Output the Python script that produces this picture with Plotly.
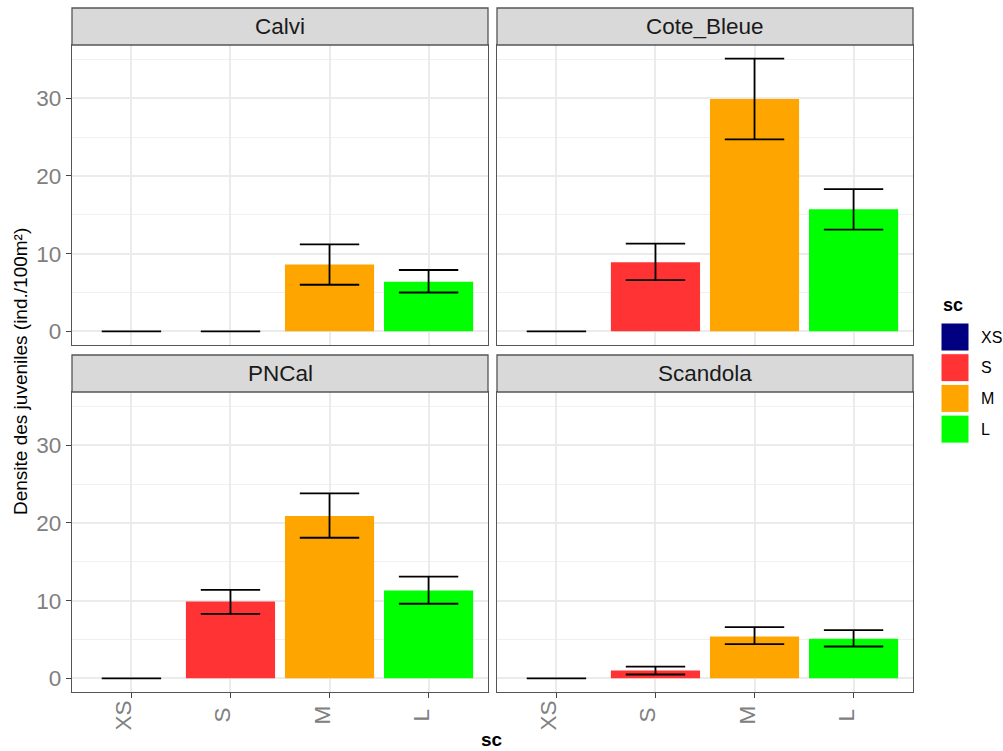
import plotly.graph_objects as go

# Size classes and facet order
size_classes = ["XS", "S", "M", "L"]
sites = ["Calvi", "Cote_Bleue", "PNCal", "Scandola"]
class_colors = ["#000080", "#FF3333", "#FFA500", "#00FF00"]

# Mean juvenile density (ind./100m²) per site and size class, with error-bar bounds
density_calvi = [0, 0, 8.6, 6.4]
lower_calvi = [0, 0, 6.0, 5.0]
upper_calvi = [0, 0, 11.2, 7.9]

density_cote_bleue = [0, 8.9, 29.9, 15.7]
lower_cote_bleue = [0, 6.6, 24.7, 13.1]
upper_cote_bleue = [0, 11.3, 35.1, 18.3]

density_pncal = [0, 9.9, 20.9, 11.3]
lower_pncal = [0, 8.3, 18.1, 9.6]
upper_pncal = [0, 11.4, 23.8, 13.1]

density_scandola = [0, 1.0, 5.4, 5.1]
lower_scandola = [0, 0.5, 4.4, 4.1]
upper_scandola = [0, 1.5, 6.6, 6.2]

y_ticks = [0, 10, 20, 30]

panels = [
    (density_calvi, lower_calvi, upper_calvi),
    (density_cote_bleue, lower_cote_bleue, upper_cote_bleue),
    (density_pncal, lower_pncal, upper_pncal),
    (density_scandola, lower_scandola, upper_scandola),
]

W, H = 1003, 751
FONT = "Liberation Sans, Arial"


def px_x(v):
    return v / W


def px_y(v):
    return 1 - v / H


# panel geometry in pixels: (left, right) per column, (top, bottom) per row
col_px = [(72, 488), (497, 913)]
row_px = [(45, 345), (392, 692)]
strip_h = 37

fig = go.Figure()

# y range with 5% expansion of the data span
ymax = max(max(upper_calvi), max(upper_cote_bleue), max(upper_pncal), max(upper_scandola))
pad = 0.05 * ymax
y_range = [-pad, ymax + pad]

shapes = []
annotations = []

for i, (site, (dens, lo, hi)) in enumerate(zip(sites, panels)):
    r, c = divmod(i, 2)
    ax = "" if i == 0 else str(i + 1)
    xref, yref = "x" + ax, "y" + ax
    err_plus = [h - d for h, d in zip(hi, dens)]
    err_minus = [d - l for d, l in zip(dens, lo)]
    fig.add_trace(go.Bar(
        x=size_classes, y=dens, width=0.9,
        marker=dict(color=class_colors, line=dict(width=0)),
        error_y=dict(type="data", symmetric=False, array=err_plus, arrayminus=err_minus,
                     color="black", thickness=1.8, width=29.7),
        xaxis=xref, yaxis=yref, showlegend=False, hoverinfo="skip",
    ))

    left, right = col_px[c]
    top, bottom = row_px[r]
    xdom = [px_x(left), px_x(right)]
    ydom = [px_y(bottom), px_y(top)]

    fig.layout["xaxis" + ax] = dict(
        domain=xdom, anchor=yref, type="category",
        categoryorder="array", categoryarray=size_classes,
        range=[-0.6, 3.6], showgrid=True, gridcolor="#EBEBEB", gridwidth=1.8,
        showline=True, mirror=True, linecolor="#555555", linewidth=1.3,
        ticks="outside" if r == 1 else "", ticklen=5, tickcolor="#444444", tickwidth=1.3,
        showticklabels=False, zeroline=False, fixedrange=True,
    )
    fig.layout["yaxis" + ax] = dict(
        domain=ydom, anchor=xref, range=y_range,
        tickvals=y_ticks, showgrid=True, gridcolor="#EBEBEB", gridwidth=1.8,
        minor=dict(dtick=5, tick0=0, showgrid=True, gridcolor="#F0F0F0", gridwidth=1),
        showline=True, mirror=True, linecolor="#555555", linewidth=1.3,
        ticks="outside" if c == 0 else "", ticklen=5, tickcolor="#444444", tickwidth=1.3,
        showticklabels=(c == 0), zeroline=False,
        tickfont=dict(family=FONT, size=22.5, color="#808080"),
        fixedrange=True,
    )

    # facet strip
    shapes.append(dict(type="rect", xref="paper", yref="paper",
                       x0=px_x(left), x1=px_x(right), y0=px_y(top), y1=px_y(top - strip_h),
                       fillcolor="#D9D9D9", line=dict(color="#555555", width=1.3), layer="above"))
    annotations.append(dict(text=site, xref="paper", yref="paper",
                            x=px_x((left + right) / 2), y=px_y(top - strip_h / 2),
                            xanchor="center", yanchor="middle", showarrow=False,
                            font=dict(family=FONT, size=22.5, color="#1A1A1A")))

    # rotated category labels under the bottom row
    if r == 1:
        for cat in size_classes:
            annotations.append(dict(text=cat, xref=xref, yref="paper", x=cat, y=px_y(715),
                                    textangle=-90, xanchor="center", yanchor="middle",
                                    xshift=-8, showarrow=False,
                                    font=dict(family=FONT, size=22.5, color="#808080")))

# axis titles
annotations.append(dict(text="Densite des juveniles (ind./100m²)", xref="paper", yref="paper",
                        x=px_x(20), y=px_y(372), textangle=-90, xanchor="center", yanchor="middle",
                        showarrow=False, font=dict(family=FONT, size=19, color="black")))
annotations.append(dict(text="<b>sc</b>", xref="paper", yref="paper",
                        x=px_x(492), y=px_y(739), xanchor="center", yanchor="middle",
                        showarrow=False, font=dict(family=FONT, size=19, color="black")))

# legend for size classes
annotations.append(dict(text="<b>sc</b>", xref="paper", yref="paper",
                        x=px_x(941), y=px_y(305), xanchor="left", yanchor="middle",
                        showarrow=False, font=dict(family=FONT, size=18, color="black")))
key_top = 323
for k, (cat, col) in enumerate(zip(size_classes, class_colors)):
    t = key_top + k * 30.7
    shapes.append(dict(type="rect", xref="paper", yref="paper",
                       x0=px_x(941), x1=px_x(969), y0=px_y(t + 28), y1=px_y(t),
                       fillcolor=col, line=dict(color="white", width=1)))
    annotations.append(dict(text=cat, xref="paper", yref="paper",
                            x=px_x(979), y=px_y(t + 14), xanchor="left", yanchor="middle",
                            showarrow=False,
                            font=dict(family=FONT, size=16, color="black")))

fig.update_layout(
    width=W, height=H, margin=dict(l=0, r=0, t=0, b=0),
    paper_bgcolor="white", plot_bgcolor="white",
    shapes=shapes, annotations=annotations, showlegend=False,
    font=dict(family=FONT),
)

fig.write_html("out.html")
